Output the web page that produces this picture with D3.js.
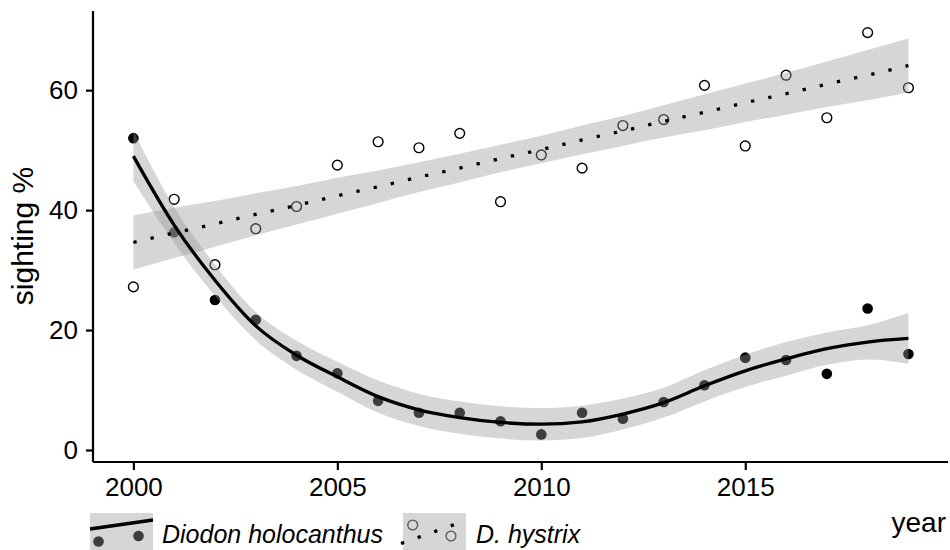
<!DOCTYPE html>
<html>
<head>
<meta charset="utf-8">
<script src="https://cdn.jsdelivr.net/npm/d3@7"></script>
<style>
  body { margin: 0; background: #fff; }
  text { font-family: "Liberation Sans", Arial, sans-serif; fill: #000; }
</style>
</head>
<body>
<svg id="chart" width="950" height="550"></svg>
<script>
// years and sighting %
const years = d3.range(2000, 2020)
const holocanthus = [52.0, 36.3, 25.0, 21.7, 15.7, 12.8, 8.2, 6.2, 6.2, 4.8, 2.6, 6.2, 5.2, 8.0, 10.8, 15.4, 15.0, 12.7, 23.6, 16.0]
const hystrix = [27.2, 41.8, 30.9, 36.9, 40.6, 47.5, 51.4, 50.4, 52.8, 41.4, 49.2, 47.0, 54.1, 55.1, 60.8, 50.7, 62.5, 55.4, 69.6, 60.4]

// smoother (loess) for D. holocanthus, with its band
const holoFit = [49.0, 37.5, 28.3, 20.7, 15.8, 12.2, 8.9, 6.7, 5.4, 4.6, 4.3, 4.7, 6.0, 7.9, 10.7, 13.2, 15.2, 16.9, 18.0, 18.6]
const holoLower = [44.8, 34.5, 25.7, 18.3, 13.4, 9.7, 6.2, 4.0, 2.7, 1.9, 1.6, 2.0, 3.4, 5.4, 8.1, 10.5, 12.4, 14.2, 15.1, 14.4]
const holoUpper = [53.2, 40.5, 30.9, 23.0, 18.2, 14.7, 11.6, 9.4, 8.1, 7.3, 7.0, 7.4, 8.6, 10.4, 13.3, 15.9, 18.0, 19.6, 20.8, 22.9]

// linear fit for D. hystrix, with its band
const hystFit = [34.6, 36.2, 37.7, 39.3, 40.8, 42.4, 43.9, 45.5, 47.0, 48.6, 50.1, 51.7, 53.2, 54.8, 56.3, 57.9, 59.4, 61.0, 62.5, 64.1]
const hystLower = [30.1, 32.0, 33.9, 35.8, 37.6, 39.4, 41.2, 43.0, 44.6, 46.3, 47.8, 49.3, 50.7, 52.1, 53.3, 54.7, 55.9, 57.2, 58.3, 59.6]
const hystUpper = [39.1, 40.4, 41.5, 42.8, 44.0, 45.4, 46.6, 48.0, 49.4, 50.9, 52.4, 54.1, 55.7, 57.5, 59.3, 61.1, 62.9, 64.8, 66.7, 68.6]

const xTicks = [2000, 2005, 2010, 2015]
const yTicks = [0, 20, 40, 60]

const svg = d3.select('#chart')

const x = d3.scaleLinear().domain([1999.01, 2019.97]).range([93, 948])
const y = d3.scaleLinear().domain([-2, 73.2]).range([462, 11])

// points first, the ribbons sit on top of them
const pts = years.map((yr, i) => ({yr, holo: holocanthus[i], hyst: hystrix[i]}))

svg.append('g').selectAll('circle')
    .data(pts)
    .join('circle')
    .attr('cx', d => x(d.yr))
    .attr('cy', d => y(d.hyst))
    .attr('r', 4.9)
    .attr('fill', 'none')
    .attr('stroke', '#000')
    .attr('stroke-width', 1.4)

svg.append('g').selectAll('circle')
    .data(pts)
    .join('circle')
    .attr('cx', d => x(d.yr))
    .attr('cy', d => y(d.holo))
    .attr('r', 5.3)
    .attr('fill', '#000')

const holoRows = years.map((yr, i) => ({yr, fit: holoFit[i], lo: holoLower[i], hi: holoUpper[i]}))
const hystRows = years.map((yr, i) => ({yr, fit: hystFit[i], lo: hystLower[i], hi: hystUpper[i]}))

const band = d3.area()
    .x(d => x(d.yr))
    .y0(d => y(d.lo))
    .y1(d => y(d.hi))
    .curve(d3.curveMonotoneX)

const fitLine = d3.line()
    .x(d => x(d.yr))
    .y(d => y(d.fit))
    .curve(d3.curveMonotoneX)

svg.append('path').datum(holoRows)
    .attr('d', band)
    .attr('fill', '#999')
    .attr('fill-opacity', 0.4)

svg.append('path').datum(hystRows)
    .attr('d', band)
    .attr('fill', '#999')
    .attr('fill-opacity', 0.4)

svg.append('path').datum(holoRows)
    .attr('d', fitLine)
    .attr('fill', 'none')
    .attr('stroke', '#000')
    .attr('stroke-width', 3.3)

svg.append('path').datum(hystRows)
    .attr('d', fitLine)
    .attr('fill', 'none')
    .attr('stroke', '#000')
    .attr('stroke-width', 3.3)
    .attr('stroke-dasharray', '3.3 14.3')

// axes
const xAxis = svg.append('g')
    .attr('transform', 'translate(0,462)')
    .call(d3.axisBottom(x).tickValues(xTicks).tickFormat(d3.format('d')).tickSize(8).tickPadding(8))
const yAxis = svg.append('g')
    .attr('transform', 'translate(93,0)')
    .call(d3.axisLeft(y).tickValues(yTicks).tickSize(7).tickPadding(8))

for (const ax of [xAxis, yAxis]) {
    ax.select('.domain').attr('stroke', '#000').attr('stroke-width', 2.2)
    ax.selectAll('.tick line').attr('stroke', '#000').attr('stroke-width', 2.2)
    ax.selectAll('.tick text')
        .attr('font-size', 26)
        .attr('font-family', '"Liberation Sans", Arial, sans-serif')
        .attr('fill', '#000')
}
xAxis.select('.domain').attr('d', 'M93,0H948')
yAxis.select('.domain').attr('d', 'M0,11V462')

svg.append('text')
    .attr('transform', 'translate(33,236) rotate(-90)')
    .attr('text-anchor', 'middle')
    .attr('font-size', 30)
    .text('sighting %')

svg.append('text')
    .attr('x', 946)
    .attr('y', 532)
    .attr('text-anchor', 'end')
    .attr('font-size', 28)
    .text('year')

// legend
const legend = svg.append('g')

legend.append('rect').attr('x', 90).attr('y', 513).attr('width', 63).attr('height', 45).attr('fill', '#d6d6d6')
legend.append('line')
    .attr('x1', 90).attr('y1', 529).attr('x2', 153).attr('y2', 520)
    .attr('stroke', '#000').attr('stroke-width', 3.3)
legend.selectAll('circle.k1')
    .data([[98.5, 541.5], [138.5, 536]])
    .join('circle')
    .attr('cx', d => d[0]).attr('cy', d => d[1]).attr('r', 5.3)
    .attr('fill', '#3d3d3d')
legend.append('text')
    .attr('x', 162).attr('y', 543)
    .attr('font-size', 25).attr('font-style', 'italic')
    .text('Diodon holocanthus')

legend.append('rect').attr('x', 403).attr('y', 513).attr('width', 63).attr('height', 45).attr('fill', '#d6d6d6')
legend.selectAll('circle.k2')
    .data([[412.7, 525], [451, 536]])
    .join('circle')
    .attr('cx', d => d[0]).attr('cy', d => d[1]).attr('r', 4.9)
    .attr('fill', 'none').attr('stroke', '#555').attr('stroke-width', 1.3)
legend.append('line')
    .attr('x1', 401).attr('y1', 543.5).attr('x2', 456).attr('y2', 524)
    .attr('stroke', '#000').attr('stroke-width', 3.3)
    .attr('stroke-dasharray', '3.3 14.3')
legend.append('text')
    .attr('x', 476).attr('y', 543)
    .attr('font-size', 25).attr('font-style', 'italic')
    .text('D. hystrix')
</script>
</body>
</html>
